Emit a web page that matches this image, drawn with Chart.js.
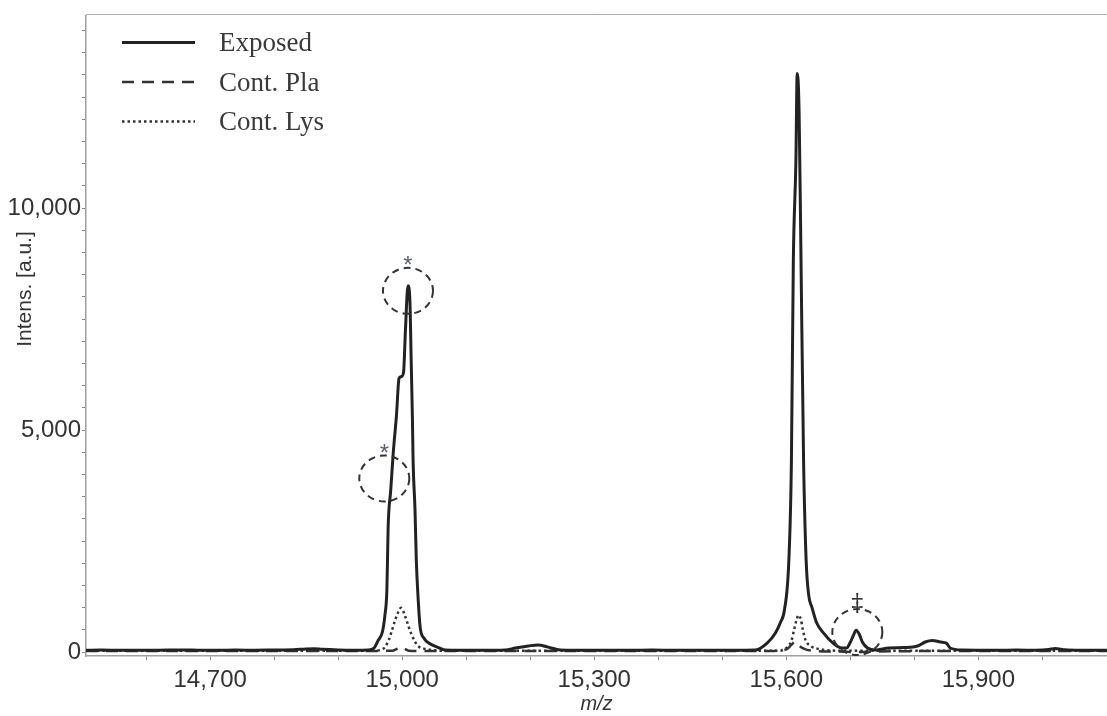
<!DOCTYPE html>
<html>
<head>
<meta charset="utf-8">
<script src="https://cdn.jsdelivr.net/npm/chart.js@4.4.1/dist/chart.umd.min.js"></script>
<style>
  html, body { margin: 0; padding: 0; background: #fff; }
  #wrap { width: 1107px; height: 716px; position: relative; }
</style>
</head>
<body>
<div id="wrap"><canvas id="spectrum"></canvas></div>
<script>
// Exposed spectrum (m/z, intensity)
const exposedMz = [14506, 14530, 14560, 14590, 14620, 14650, 14680, 14710, 14740, 14770, 14800, 14830, 14850, 14862, 14875, 14900, 14925,
  14947, 14956, 14962, 14969, 14973, 14976, 14977, 14978, 14982, 14986, 14991, 14995, 14998, 15002, 15005, 15009,
  15012, 15014, 15016, 15017, 15020, 15022, 15025, 15028, 15034, 15044, 15055, 15067, 15090, 15120, 15145,
  15161, 15177, 15197, 15212, 15228, 15247, 15270, 15300, 15330, 15360, 15390, 15420, 15450, 15480, 15510, 15535,
  15552, 15570, 15583, 15591, 15597, 15604, 15608, 15611, 15615, 15617, 15620, 15623, 15627, 15631, 15635, 15640,
  15647, 15658, 15673, 15687, 15694, 15700, 15705, 15709, 15714, 15719, 15727, 15739, 15760, 15785,
  15805, 15817, 15828, 15841, 15850, 15856, 15875, 15900, 15930, 15960, 15990, 16010, 16020, 16035, 16060, 16085, 16101];
const exposedInt = [40, 45, 38, 42, 40, 45, 42, 38, 44, 40, 45, 50, 70, 75, 60, 45, 40,
  45, 90, 250, 450, 830, 1390, 2070, 2810, 3640, 4490, 5330, 6160, 6200, 6290, 7240, 8250,
  7910, 6560, 5210, 4310, 3190, 2070, 1170, 560, 310, 180, 110, 45, 40, 42, 40,
  45, 90, 135, 160, 110, 45, 40, 42, 38, 40, 44, 40, 38, 42, 40, 42,
  45, 200, 430, 670, 940, 2070, 4310, 8810, 11060, 13030, 12180, 8810, 4310, 2070, 1280, 1010,
  670, 430, 200, 90, 90, 220, 380, 490, 400, 220, 90, 45, 90, 100,
  135, 225, 260, 225, 200, 90, 45, 42, 40, 44, 40, 55, 80, 50, 40, 42, 40];

// Cont. Pla spectrum
const plaMz = [14506, 14600, 14700, 14800, 14900, 14960, 14985, 14993, 14998, 15003, 15010, 15030, 15100, 15200, 15300, 15400,
  15500, 15580, 15600, 15608, 15613, 15617, 15622, 15630, 15645, 15680, 15710, 15740, 15800, 15900, 16000, 16101];
const plaInt = [25, 25, 22, 25, 22, 25, 30, 80, 110, 80, 30, 25, 22, 25, 22, 25,
  22, 25, 60, 160, 225, 200, 120, 60, 25, 10, 0, 10, 20, 22, 25, 22];

// Cont. Lys spectrum
const lysMz = [14506, 14600, 14700, 14800, 14900, 14955, 14970, 14979, 14984, 14989, 14994, 14998, 15005, 15010, 15015,
  15020, 15026, 15036, 15060, 15200, 15400, 15550, 15590, 15598, 15603, 15608, 15612, 15616, 15619, 15623, 15626,
  15630, 15638, 15650, 15680, 15800, 16000, 16101];
const lysInt = [30, 30, 30, 30, 30, 30, 70, 270, 490, 720, 905, 995, 790, 570, 380,
  230, 120, 70, 30, 30, 30, 30, 30, 70, 135, 250, 490, 720, 830, 720, 490,
  270, 135, 70, 30, 30, 30, 30];

// marked peaks
const markMz = [15009, 14972, 15711];
const markInt = [8135, 3910, 450];
const markSymbol = ['*', '*', '\u2021'];

const xMin = 14506, xMax = 16101;
const yMin = -90, yMax = 14340;
const xTickStep = 100;
const xTickLast = 16000;
const xLabelStep = 300;
const yTickStep = 500;
const yLabelStep = 5000;

function toPoints(xs, ys) {
  return xs.map((x, i) => ({ x: x, y: ys[i] }));
}

function stepTicks(min, max, step) {
  const out = [];
  for (let v = Math.ceil(min / step) * step + 0; v <= max; v += step) {
    out.push({ value: v + 0 });
  }
  return out;
}

const frame = {
  id: 'frame',
  afterDraw(chart) {
    const ctx = chart.ctx;
    const a = chart.chartArea;
    ctx.save();
    ctx.strokeStyle = '#b0b0b0';
    ctx.lineWidth = 1;
    ctx.beginPath();
    ctx.moveTo(a.left, 14.5);
    ctx.lineTo(chart.width, 14.5);
    ctx.stroke();

    // y title
    ctx.fillStyle = '#333';
    ctx.font = '21px "Liberation Sans", Arial, sans-serif';
    ctx.textAlign = 'center';
    ctx.textBaseline = 'middle';
    ctx.translate(25, 289);
    ctx.rotate(-Math.PI / 2);
    ctx.fillText('Intens. [a.u.]', 0, 0);
    ctx.restore();

    // legend
    ctx.save();
    chart.data.datasets.forEach((ds, i) => {
      const y = a.top + 27 + i * 39.5;
      ctx.strokeStyle = ds.borderColor;
      ctx.lineWidth = ds.borderWidth;
      ctx.setLineDash(ds.borderDash || []);
      ctx.beginPath();
      ctx.moveTo(a.left + 36, y);
      ctx.lineTo(a.left + 109, y);
      ctx.stroke();
      ctx.setLineDash([]);
      ctx.fillStyle = '#3a3a3a';
      ctx.font = '27px "Liberation Serif", "Times New Roman", serif';
      ctx.textAlign = 'left';
      ctx.textBaseline = 'alphabetic';
      ctx.fillText(ds.label, a.left + 133, y + 9);
    });
    ctx.restore();

    // dashed circles on marked peaks
    const xs = chart.scales.x, ys = chart.scales.y;
    ctx.save();
    markMz.forEach((m, i) => {
      const px = xs.getPixelForValue(m);
      const py = ys.getPixelForValue(markInt[i]);
      ctx.strokeStyle = '#333';
      ctx.lineWidth = 2;
      ctx.setLineDash([7, 5]);
      ctx.beginPath();
      ctx.ellipse(px, py, 25, 23, 0, 0, Math.PI * 2);
      ctx.stroke();
      ctx.setLineDash([]);
      ctx.textAlign = 'center';
      ctx.textBaseline = 'middle';
      if (markSymbol[i] === '*') {
        ctx.fillStyle = '#5a5f78';
        ctx.font = '24px "Liberation Sans", Arial, sans-serif';
        ctx.fillText('*', px, py - 24);
      } else {
        ctx.fillStyle = '#333';
        ctx.font = '24px "DejaVu Serif", serif';
        ctx.fillText(markSymbol[i], px, py - 27);
      }
    });
    ctx.restore();
  }
};

const ctx = document.getElementById('spectrum').getContext('2d');
new Chart(ctx, {
  type: 'line',
  data: {
    datasets: [{
      label: 'Exposed',
      data: toPoints(exposedMz, exposedInt),
      borderColor: '#222',
      borderWidth: 3,
      borderDash: [],
      pointRadius: 0,
      cubicInterpolationMode: 'monotone'
    },
    {
      label: 'Cont. Pla',
      data: toPoints(plaMz, plaInt),
      borderColor: '#333',
      borderWidth: 2.5,
      borderDash: [12, 8],
      pointRadius: 0,
      cubicInterpolationMode: 'monotone'
    },
    {
      label: 'Cont. Lys',
      data: toPoints(lysMz, lysInt),
      borderColor: '#333',
      borderWidth: 2.5,
      borderDash: [2.5, 3],
      pointRadius: 0,
      cubicInterpolationMode: 'monotone'
    }]
  },
  options: {
    animation: false,
    responsive: true,
    maintainAspectRatio: false,
    devicePixelRatio: 1,
    layout: {
      padding: { top: 14, left: 0, right: 0, bottom: 0 }
    },
    plugins: {
      legend: { display: false },
      tooltip: { enabled: false }
    },
    scales: {
      x: {
        type: 'linear',
        min: xMin,
        max: xMax,
        afterBuildTicks: (scale) => { scale.ticks = stepTicks(xMin, xTickLast, xTickStep); },
        afterFit: (scale) => { scale.height = 60; },
        border: { color: '#a0a0a0', width: 1.5 },
        grid: { drawOnChartArea: false, tickLength: 4, tickColor: '#888' },
        ticks: {
          autoSkip: false,
          maxRotation: 0,
          padding: 6,
          color: '#333',
          font: { family: '"Liberation Sans", Arial, sans-serif', size: 24 },
          callback: (v) => (v % xLabelStep === 0 ? v.toLocaleString('en-US') : '')
        },
        title: {
          display: true,
          text: 'm/z',
          color: '#333',
          font: { family: '"Liberation Sans", Arial, sans-serif', size: 20, style: 'italic' },
          padding: { top: 0, bottom: 0 }
        }
      },
      y: {
        min: yMin,
        max: yMax,
        afterBuildTicks: (scale) => { scale.ticks = stepTicks(yMin, yMax, yTickStep); },
        afterFit: (scale) => { scale.width = 86; },
        border: { color: '#a0a0a0', width: 1.5 },
        grid: { drawOnChartArea: false, tickLength: 4, tickColor: '#888' },
        ticks: {
          autoSkip: false,
          padding: 1,
          color: '#333',
          font: { family: '"Liberation Sans", Arial, sans-serif', size: 24 },
          callback: (v) => (v % yLabelStep === 0 ? v.toLocaleString('en-US') : '')
        }
      }
    }
  },
  plugins: [frame]
});
</script>
</body>
</html>
